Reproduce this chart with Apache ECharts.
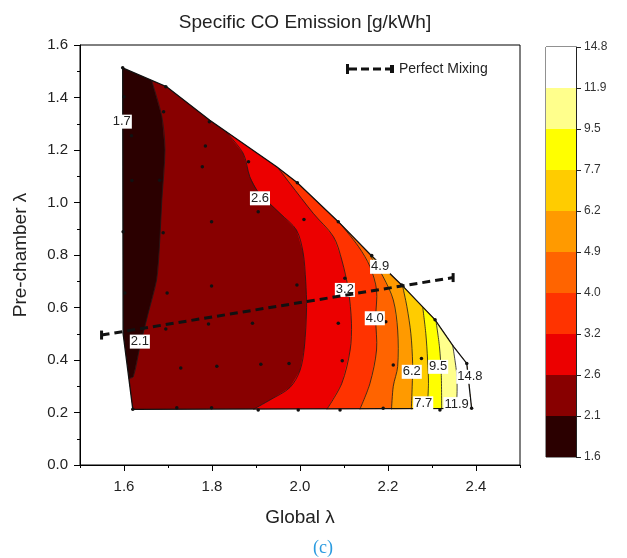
<!DOCTYPE html>
<html><head><meta charset="utf-8">
<script src="https://cdn.jsdelivr.net/npm/echarts@6/dist/echarts.min.js"></script>
<style>html,body{margin:0;padding:0;background:#fff}#c{width:627px;height:558px}</style>
</head><body><div id="c"></div>
<script>
// ---- data ----
const levelLabels = ['1.6','2.1','2.6','3.2','4.0','4.9','6.2','7.7','9.5','11.9','14.8'];
const bandColors = ['#2b0000','#880000','#ec0000','#ff3300','#ff6400','#ff9a00','#ffcc00','#ffff00','#ffff8c','#ffffff'];
const xTickValues = [1.6,1.8,2.0,2.2,2.4];

// measured domain outline (Global λ, Pre-chamber λ), clockwise from top-left
const domain = [[1.597,1.513],[1.697,1.441],[1.795,1.313],[1.947,1.136],[1.994,1.075],[2.087,0.927],[2.162,0.798],[2.231,0.686],[2.307,0.553],[2.349,0.451],[2.379,0.387],[2.390,0.216],[1.620,0.212],[1.598,0.500]];

// contour lines (from top edge down), level 2.1 ... 11.9
const contour21 = [[1.663,1.463],[1.686,1.327],[1.693,1.2],[1.686,1.01],[1.680,0.82],[1.674,0.705],[1.655,0.578],[1.636,0.45],[1.621,0.336],[1.611,0.33]];
const contour26 = [[1.830,1.272],[1.871,1.187],[1.886,1.098],[1.905,1.04],[1.955,0.958],[1.992,0.895],[2.007,0.81],[2.013,0.7],[2.015,0.6],[2.010,0.45],[2.0,0.36],[1.977,0.295],[1.932,0.248],[1.894,0.212]];
const contour32 = [[1.950,1.132],[1.977,1.073],[2.030,0.959],[2.076,0.870],[2.095,0.781],[2.110,0.667],[2.117,0.540],[2.114,0.438],[2.095,0.311],[2.061,0.212]];
const contour40 = [[2.090,0.922],[2.133,0.832],[2.159,0.756],[2.174,0.667],[2.172,0.559],[2.174,0.438],[2.159,0.311],[2.136,0.212]];
const contour49 = [[2.160,0.796],[2.189,0.717],[2.212,0.629],[2.222,0.514],[2.222,0.375],[2.212,0.3],[2.208,0.212]];
const contour62 = [[2.233,0.683],[2.243,0.603],[2.252,0.5],[2.256,0.387],[2.255,0.3],[2.253,0.212]];
const contour77 = [[2.279,0.600],[2.286,0.5],[2.290,0.4],[2.292,0.31],[2.289,0.212]];
const contour95 = [[2.309,0.549],[2.317,0.45],[2.321,0.35],[2.322,0.212]];
const contour119 = [[2.347,0.456],[2.356,0.35],[2.357,0.28],[2.355,0.212]];
const contours = [contour21,contour26,contour32,contour40,contour49,contour62,contour77,contour95,contour119];

// measurement points
const samplePoints = [[1.597,1.513],[1.695,1.441],[1.600,1.403],[1.690,1.346],[1.794,1.308],[1.617,1.254],[1.785,1.215],[1.883,1.155],[1.778,1.136],[1.618,1.084],[1.681,1.085],[1.994,1.075],[1.905,0.965],[1.799,0.927],[2.009,0.935],[2.087,0.927],[1.689,0.885],[1.598,0.889],[2.163,0.798],[2.102,0.711],[1.993,0.686],[1.799,0.682],[1.698,0.655],[1.602,0.655],[2.231,0.686],[2.195,0.546],[2.087,0.540],[1.892,0.540],[1.792,0.537],[1.695,0.518],[2.307,0.553],[2.276,0.406],[2.212,0.381],[2.096,0.397],[1.975,0.387],[1.911,0.384],[1.811,0.376],[1.729,0.370],[2.379,0.387],[1.620,0.212],[1.720,0.218],[1.799,0.218],[1.905,0.210],[1.996,0.210],[2.091,0.210],[2.189,0.216],[2.318,0.210],[2.390,0.216]];

// contour value labels [x, y, text]
const contourLabels = [[1.595,1.308,'1.7'],[1.636,0.470,'2.1'],[1.909,1.016,'2.6'],[2.102,0.667,'3.2'],[2.170,0.559,'4.0'],[2.182,0.755,'4.9'],[2.254,0.355,'6.2'],[2.280,0.235,'7.7'],[2.314,0.374,'9.5'],[2.356,0.232,'11.9'],[2.386,0.336,'14.8']];

const mixingLine = [[1.549,0.495],[2.348,0.714]];

// ---- chart ----
const FONT = '"Liberation Sans", Arial, sans-serif';
const chart = echarts.init(document.getElementById('c'), null, {renderer:'canvas'});

function segIndex(pt, D){
  let best = 0, bd = Infinity;
  for (let i=0;i<D.length;i++){
    const a = D[i], b = D[(i+1)%D.length];
    const dx=b[0]-a[0], dy=b[1]-a[1];
    let t = ((pt[0]-a[0])*dx+(pt[1]-a[1])*dy)/(dx*dx+dy*dy);
    t = Math.max(0,Math.min(1,t));
    const px=a[0]+t*dx-pt[0], py=a[1]+t*dy-pt[1];
    const d = px*px+py*py;
    if (d<bd){bd=d;best=i;}
  }
  return best;
}
function superPolygon(k, api){
  const D = domain.map(p=>api.coord(p));
  if (k===0) return D;
  const C = contours[k-1].map(p=>api.coord(p));
  const n = D.length;
  const i = segIndex(C[0], D), j = segIndex(C[C.length-1], D);
  const pts = C.slice();
  let m = j, guard=0;
  while (m !== i && guard++ < n){ pts.push(D[m]); m = (m-1+n)%n; }
  return pts;
}

const cbSeries = bandColors.map((c,i)=>({
  type:'bar', stack:'cb', xAxisIndex:2, yAxisIndex:1, data:[1], barWidth:'100%',
  itemStyle:{color:c}, silent:true, animation:false
}));

chart.setOption({
  animation:false,
  title:[
    {text:'Specific CO Emission [g/kWh]', left:300, top:8, textAlign:'center',
     textStyle:{fontFamily:FONT, fontSize:19, fontWeight:'normal', color:'#222'}},
    {text:'(c)', left:318, top:534, textAlign:'center',
     textStyle:{fontFamily:'"Liberation Serif", "Times New Roman", serif', fontSize:18, fontWeight:'normal', color:'#2a9be0'}}
  ],
  legend:{
    data:['Perfect Mixing'], left:341, top:57, itemWidth:48, itemHeight:10, itemGap:8,
    icon:'path://M0,0h3v10h-3z M3,3.5h8v3h-8z M15,3.5h8v3h-8z M27,3.5h8v3h-8z M39,3.5h5v3h-5z M44,1h4v8h-4z',
    textStyle:{fontFamily:FONT, fontSize:14, color:'#222'},
    itemStyle:{color:'#111'}
  },
  grid:[
    {left:80, top:45, width:440, height:420, show:true, borderColor:'#000', borderWidth:1, backgroundColor:'transparent'},
    {left:546, top:47, width:30, height:410, show:true, borderColor:'#222', borderWidth:1}
  ],
  xAxis:[
    {type:'value', gridIndex:0, min:1.5, max:2.5, interval:0.1,
     name:'Global λ', nameLocation:'middle', nameGap:43,
     nameTextStyle:{fontFamily:FONT, fontSize:19, color:'#222'},
     axisLine:{lineStyle:{color:'#000', width:1}},
     axisTick:{show:true, length:6, customValues:xTickValues, lineStyle:{color:'#000'}},
     axisLabel:{customValues:xTickValues, fontFamily:FONT, fontSize:15, color:'#222', margin:14,
       formatter:v=>v.toFixed(1)},
     splitLine:{show:false}},
    {type:'value', gridIndex:0, min:1.5, max:2.5, interval:0.1, position:'bottom',
     axisLine:{show:false}, axisLabel:{show:false}, splitLine:{show:false},
     axisTick:{show:true, length:3, lineStyle:{color:'#000'}}},
    {type:'category', gridIndex:1, data:['c'], show:false}
  ],
  yAxis:[
    {type:'value', gridIndex:0, min:0, max:1.6, interval:0.2,
     name:'Pre-chamber λ', nameLocation:'middle', nameGap:50,
     nameTextStyle:{fontFamily:FONT, fontSize:19, color:'#222'},
     axisLine:{show:true, lineStyle:{color:'#000', width:1}},
     axisTick:{show:true, length:6, lineStyle:{color:'#000'}},
     minorTick:{show:true, splitNumber:2, length:3, lineStyle:{color:'#000'}},
     axisLabel:{fontFamily:FONT, fontSize:15, color:'#222', margin:12, formatter:v=>v.toFixed(1)},
     splitLine:{show:false}},
    {type:'value', gridIndex:1, min:0, max:10, interval:1, position:'right',
     axisLine:{show:true, lineStyle:{color:'#222'}},
     axisTick:{show:true, length:5, lineStyle:{color:'#222'}},
     axisLabel:{fontFamily:FONT, fontSize:12, color:'#333', margin:8,
       formatter:v=>levelLabels[Math.round(v)]},
     splitLine:{show:false}}
  ],
  series:[
    {type:'custom', name:'bands', xAxisIndex:0, yAxisIndex:0, z:1, silent:true,
     data:bandColors.map((c,i)=>[i]),
     renderItem:(params, api)=>({
       type:'polygon', shape:{points:superPolygon(params.dataIndex, api)},
       style:{fill:bandColors[params.dataIndex], stroke:null}
     })},
    {type:'custom', name:'contourLines', xAxisIndex:0, yAxisIndex:0, z:2, silent:true,
     data:contours.map((c,i)=>[i]),
     renderItem:(params, api)=>({
       type:'polyline', shape:{points:contours[params.dataIndex].map(p=>api.coord(p)), smooth:0.3},
       style:{stroke:'#1a1a1a', lineWidth:0.8, fill:null}
     })},
    {type:'custom', name:'outline', xAxisIndex:0, yAxisIndex:0, z:3, silent:true,
     data:[[0]],
     renderItem:(params, api)=>({
       type:'polygon', shape:{points:domain.map(p=>api.coord(p))},
       style:{stroke:'#111', lineWidth:1.3, fill:null}
     })},
    {type:'scatter', name:'points', xAxisIndex:0, yAxisIndex:0, z:4, silent:true,
     data:samplePoints, symbolSize:3.5, itemStyle:{color:'#111', opacity:1}},
    {type:'custom', name:'labels', xAxisIndex:0, yAxisIndex:0, z:5, silent:true,
     data:contourLabels.map((c,i)=>[i]),
     renderItem:(params, api)=>{
       const d = contourLabels[params.dataIndex];
       const p = api.coord([d[0], d[1]]);
       return {type:'text', x:p[0], y:p[1],
         style:{text:d[2], fontFamily:FONT, fontSize:13, fill:'#222',
           align:'center', verticalAlign:'middle',
           backgroundColor:'#fff', padding:[1,1,0,1]}};
     }},
    {type:'line', name:'Perfect Mixing', xAxisIndex:0, yAxisIndex:0, z:6,
     data:mixingLine, symbol:'rect', symbolSize:[3,9], showSymbol:true,
     itemStyle:{color:'#111'},
     lineStyle:{color:'#111', width:3, type:[8,5]}},
    ...cbSeries
  ]
});
</script>
</body></html>
